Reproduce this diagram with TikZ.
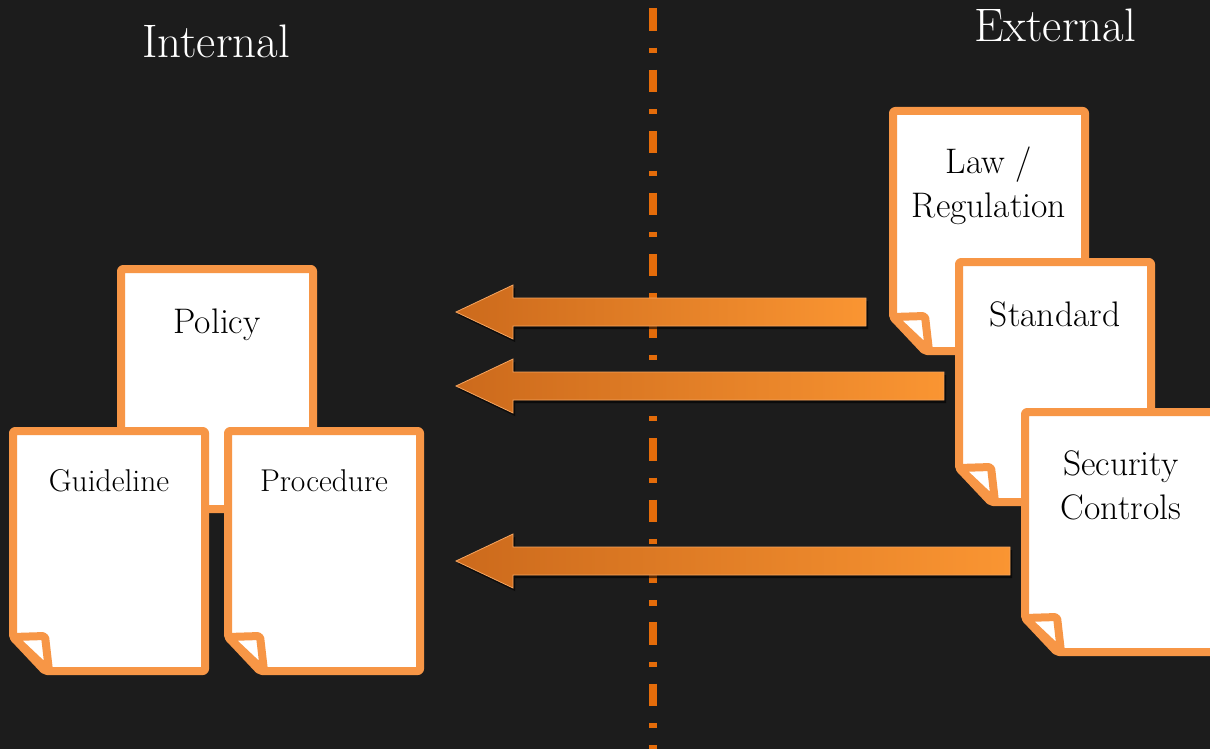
\documentclass[tikz,border=0pt]{standalone}
\usepackage{tikz}
\usetikzlibrary{positioning,shadows}

\definecolor{bgdark}{HTML}{1C1C1C}
\definecolor{sheetorange}{HTML}{F79646}
\definecolor{dashorange}{HTML}{E46C0A}
\definecolor{arrowdark}{HTML}{CC6A1C}
\definecolor{arrowlight}{HTML}{FA9532}
\definecolor{arrowedge}{HTML}{F6A560}

\tikzset{
  sheet/.style={fill=white,draw=sheetorange,line width=8pt,line join=round,rounded corners=2pt},
  sidetitle/.style={font=\fontsize{47}{52}\selectfont,text=white,anchor=base},
  bigtext/.style={font=\fontsize{35.5}{44}\selectfont,align=center,anchor=base},
  smalltext/.style={font=\fontsize{31.5}{38}\selectfont,align=center,anchor=base},
  bigarrow/.style={left color=arrowdark,right color=arrowlight,draw=arrowedge,line width=0.8pt,
    drop shadow={shadow xshift=2pt,shadow yshift=-3pt,fill=black,opacity=0.6}},
  borderline/.style={draw=dashorange,line width=8pt,dash pattern=on 22.4pt off 17pt on 5.3pt off 16.7pt}
}

% sheet of paper with folded corner: name, outer top-left x, y
\newcommand{\docsheet}[3]{%
  \begin{scope}[shift={(#2+4,#3+4)}]
    \filldraw[sheet] (0,0) -- (192,0) -- (192,240) -- (32,240) -- (0,206) -- cycle;
    \filldraw[sheet] (0,206) -- (32,205) -- (36,240) -- cycle;
    \coordinate (#1) at (96,0);
  \end{scope}}

\begin{document}
\begin{tikzpicture}[x=1pt,y=-1pt]
  \fill[bgdark] (0,0) rectangle (1210,749);
  \useasboundingbox (0,0) rectangle (1210,749);
  \clip (0,0) rectangle (1210,749);

  % side titles
  \node[sidetitle] (internal) at (216,58) {Internal};
  \node[sidetitle] (external) at (1055,42) {External};

  % boundary
  \coordinate (bordertop) at (653,8.3);
  \coordinate (borderbot) at (653,760);
  \draw[borderline] (bordertop) -- (borderbot);

  % internal documents
  \docsheet{policy}{117}{265}
  \docsheet{guide}{9}{427}
  \docsheet{proc}{224}{427}
  \node[bigtext] (policytxt) at ([yshift=-64pt]policy) {Policy};
  \node[smalltext] (guidetxt) at ([yshift=-60pt]guide) {Guideline};
  \node[smalltext] (proctxt) at ([yshift=-60pt]proc) {Procedure};

  % external documents
  \docsheet{law}{889}{107}
  \docsheet{std}{955}{258}
  \docsheet{sec}{1021}{408}
  \node[bigtext] (lawtxt) at ([yshift=-106pt]law) {Law /\\Regulation};
  \node[bigtext] (stdtxt) at ([yshift=-64pt]std) {Standard};
  \node[bigtext] (sectxt) at ([yshift=-107pt]sec) {Security\\Controls};

  % arrows from outside to inside
  \foreach \ay/\ax in {312/866, 386/944, 561/1010}{
    \path[bigarrow] (\ax,\ay-14) -- (513,\ay-14) -- (513,\ay-27) -- (456,\ay)
      -- (513,\ay+27) -- (513,\ay+14) -- (\ax,\ay+14) -- cycle;
  }
\end{tikzpicture}
\end{document}
